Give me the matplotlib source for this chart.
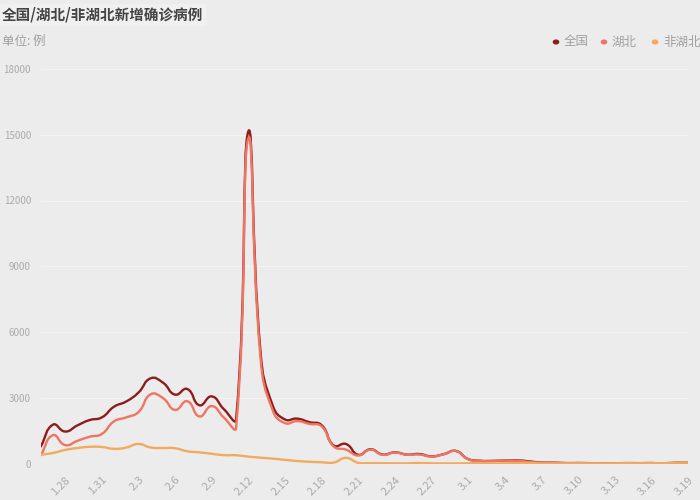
import matplotlib
matplotlib.use("Agg")
import matplotlib.pyplot as plt
from matplotlib.path import Path
from matplotlib.patches import PathPatch
import numpy as np

plt.rcParams['font.family'] = ['Noto Sans CJK SC', 'DejaVu Sans']

dates = (["1.%d" % d for d in range(26, 32)] +
         ["2.%d" % d for d in range(1, 30)] +
         ["3.%d" % d for d in range(1, 20)])

national = [769, 1771, 1459, 1737, 1982, 2102,
            2590, 2829, 3235, 3887, 3694, 3143, 3399, 2656, 3062, 2478, 2015,
            15152, 5090, 2641, 2009, 2048, 1886, 1749, 820, 889, 397, 648, 409,
            508, 406, 433, 327, 427, 573,
            202, 125, 119, 139, 143, 99, 44, 40, 19, 24, 15, 8, 11, 20, 16, 21,
            13, 34, 39]
hubei = [371, 1291, 840, 1032, 1220, 1347,
         1921, 2103, 2345, 3156, 2987, 2447, 2841, 2147, 2618, 2097, 1638,
         14840, 4823, 2420, 1843, 1933, 1807, 1693, 775, 631, 366, 630, 398,
         499, 401, 409, 318, 423, 570,
         196, 114, 115, 134, 126, 74, 41, 36, 17, 13, 8, 5, 4, 4, 4, 1,
         1, 0, 0]
non_hubei = [398, 480, 619, 705, 762, 755,
             669, 726, 890, 731, 707, 696, 558, 509, 444, 381, 377,
             312, 267, 221, 166, 115, 79, 56, 45, 258, 31, 18, 11,
             9, 5, 24, 9, 4, 3,
             6, 11, 4, 5, 17, 25, 3, 4, 2, 11, 7, 3, 7, 16, 12, 20,
             12, 34, 39]

series_names = ["全国", "湖北", "非湖北"]
colors = ["#8e1c1c", "#ef7563", "#f1aa5e"]
yticks = [0, 3000, 6000, 9000, 12000, 15000, 18000]

BG = "#ececec"
fig = plt.figure(figsize=(7, 5), dpi=100, facecolor=BG)
ax = fig.add_axes([40.7 / 700, 36.5 / 500, (688 - 40.7) / 700, (463.5 - 69) / 500])
ax.set_facecolor(BG)
ax.set_xlim(0, len(dates) - 1)
ax.set_ylim(0, 18000)
fig.canvas.draw()


def smooth_path(xs, ys, smooth=0.5):
    pts = ax.transData.transform(np.column_stack([xs, ys]))
    n = len(pts)
    cps = []
    for i in range(n):
        p = pts[i]
        prev = pts[i - 1] if i > 0 else p
        nxt = pts[i + 1] if i < n - 1 else p
        v = (nxt - prev) * smooth
        d0 = np.hypot(*(p - prev))
        d1 = np.hypot(*(p - nxt))
        s = d0 + d1
        if s > 0:
            d0 /= s
            d1 /= s
        cps.append((p - v * d0, p + v * d1))
    verts = [pts[0]]
    codes = [Path.MOVETO]
    for i in range(n - 1):
        verts += [cps[i][1], cps[i + 1][0], pts[i + 1]]
        codes += [Path.CURVE4] * 3
    verts = ax.transData.inverted().transform(np.array(verts))
    return Path(verts, codes)


x = np.arange(len(dates))
for vals, c in zip([national, hubei, non_hubei], colors):
    patch = PathPatch(smooth_path(x, vals), facecolor="none", edgecolor=c,
                      lw=1.7, capstyle="round", joinstyle="round", zorder=3)
    ax.add_patch(patch)

ax.set_yticks(yticks)
ax.set_yticklabels([str(v) for v in yticks])
ax.yaxis.grid(True, color="#f4f4f4", lw=0.8)
ax.set_axisbelow(True)
ax.tick_params(axis="y", length=0, pad=7, labelsize=7, labelcolor="#aaaaaa")

tick_idx = list(range(2, len(dates), 3))
ax.set_xticks(tick_idx)
ax.set_xticklabels([dates[i] for i in tick_idx], rotation=45, ha="right",
                   va="top", rotation_mode="anchor")
ax.tick_params(axis="x", length=0, pad=8, labelsize=8, labelcolor="#aaaaaa")

for s in ax.spines.values():
    s.set_visible(False)

fig.text(2 / 700, 1 - 15 / 500, "全国/湖北/非湖北新增确诊病例", fontsize=10.5,
         fontweight="bold", color="#444444", va="center", ha="left",
         bbox=dict(boxstyle="square,pad=0.2", fc="#f0f0f0", ec="none"))
fig.text(2 / 700, 1 - 41 / 500, "单位: 例", fontsize=9, color="#a0a0a0",
         va="center", ha="left")

leg_x = [556, 604, 655]
for lx, name, c in zip(leg_x, series_names, colors):
    fig.patches.append(plt.Circle((lx / 700, 1 - 42 / 500), 2.6 / 700,
                                  transform=fig.transFigure, color=c,
                                  figure=fig))
    fig.text((lx + 8) / 700, 1 - 42 / 500, name, fontsize=9, color="#a0a0a0",
             va="center", ha="left")

fig.savefig("out.png", dpi=100, facecolor=BG)
